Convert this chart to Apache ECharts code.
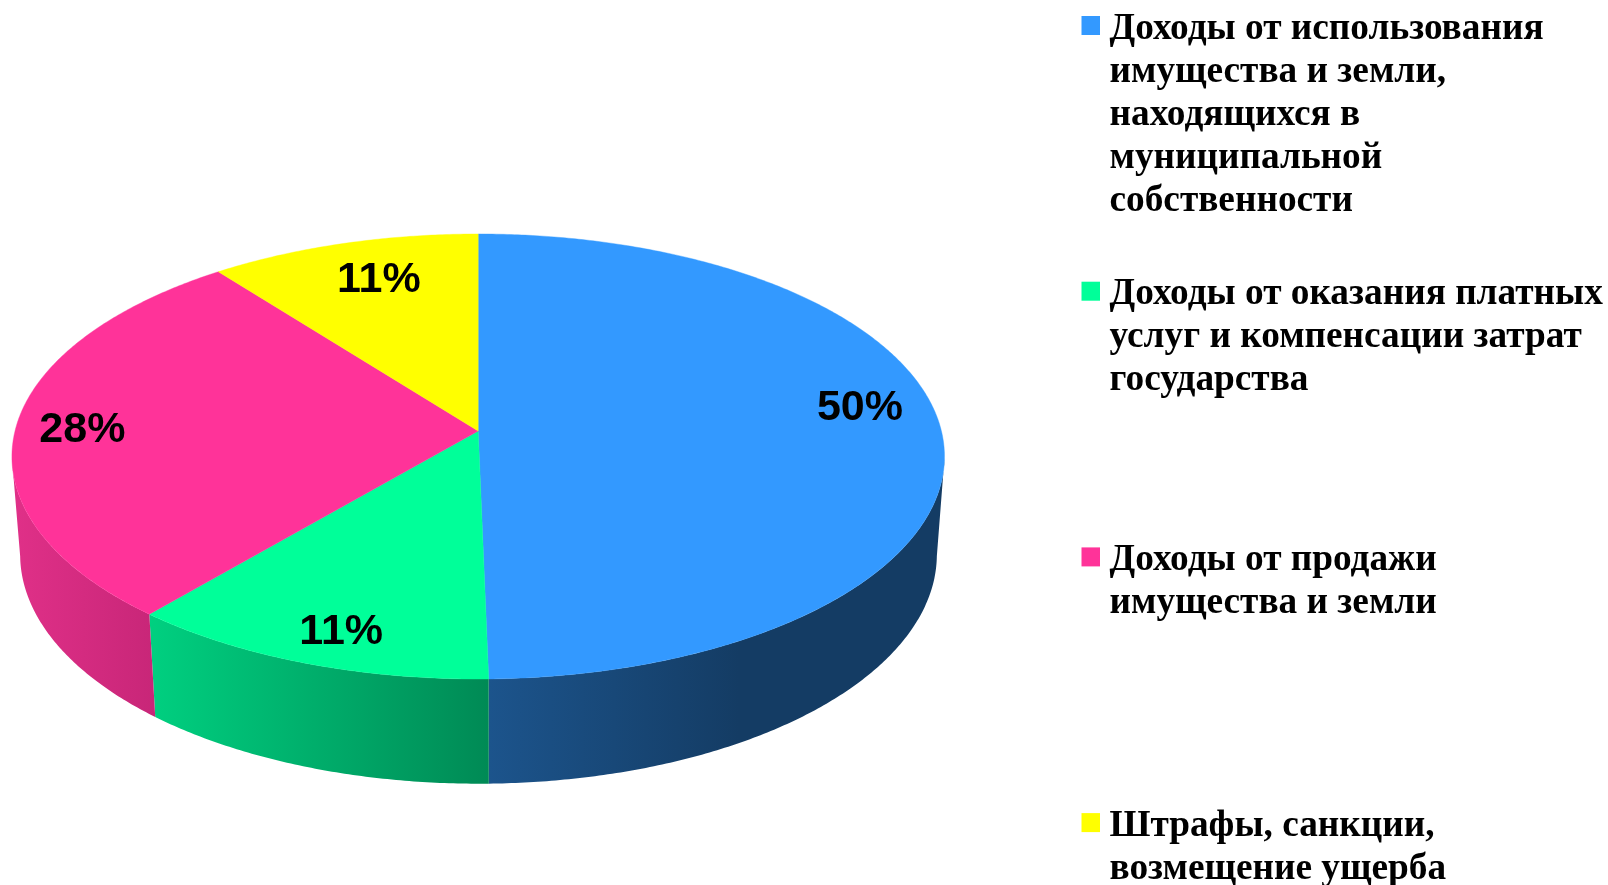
<!DOCTYPE html>
<html>
<head>
<meta charset="utf-8">
<style>html,body{margin:0;padding:0;background:#fff}#c{width:1608px;height:885px}</style>
<script src="https://cdn.jsdelivr.net/npm/echarts@6/dist/echarts.min.js"></script>
</head>
<body>
<div id="c"></div>
<script>
// Data
const categories = [
  'Доходы от использования\nимущества и земли,\nнаходящихся в\nмуниципальной\nсобственности',
  'Доходы от оказания платных\nуслуг и компенсации затрат\nгосударства',
  'Доходы от продажи\nимущества и земли',
  'Штрафы, санкции,\nвозмещение ущерба'
];
const shares = [49.68, 11.54, 28.3, 10.48];
const percentLabels = ['50%', '11%', '28%', '11%'];

// Styles
const topColors = ['#3399ff', '#00ff99', '#ff3399', '#ffff00'];
const sideStops = [
  [[0, '#1c548c'], [0.55, '#143c64'], [1, '#143c64']],
  [[0, '#00d080'], [1, '#008a55']],
  [[0, '#e03088'], [1, '#c82678']],
  [[0, '#888800'], [1, '#888800']]
];
const labelRadius = [0.841, 0.87, 0.855, 0.78];
const labelAngleShift = [-6.7, -1.7, -1, 1.5];

// Projection of the disc
const P = {cx: 478.2, cy: 431, a: 463.2, b: 219.6, k: 0.1146,
           bx: 478.5, bs: 0.983, ey: 457, ys: 1.03, dy: 98};
const VIS = [97, 263];

function project(deg, r, lower) {
  const t = deg * Math.PI / 180;
  const u = r * Math.sin(t), v = -r * Math.cos(t), w = 1 - P.k * v;
  let x = P.cx + P.a * u / w, y = P.cy + P.b * v / w;
  if (lower) {
    x = P.bx + (x - P.cx) * P.bs;
    y = P.ey + (y - P.ey) * P.ys + P.dy;
  }
  return [x, y];
}
function arc(from, to, lower) {
  const n = Math.max(2, Math.ceil(Math.abs(to - from) * 2));
  const pts = [];
  for (let i = 0; i <= n; i++) pts.push(project(from + (to - from) * i / n, 1, lower));
  return pts;
}

function renderSlice(idx) {
  return function (params, api) {
    const start = api.value(0) * 3.6, span = api.value(1) * 3.6, end = start + span;
    const children = [];
    const a0 = Math.max(start, VIS[0]), a1 = Math.min(end, VIS[1]);
    if (a1 > a0) {
      const upper = arc(a0, a1, false), lower = arc(a0, a1, true).reverse();
      const xs = upper.concat(lower).map(p => p[0]);
      const minX = Math.min.apply(null, xs), maxX = Math.max.apply(null, xs);
      const stops = sideStops[idx].map(s => ({offset: s[0], color: s[1]}));
      const grad = new echarts.graphic.LinearGradient(minX, 0, maxX, 0, stops, true);
      children.push({type: 'polygon', shape: {points: upper.concat(lower)},
        style: {fill: grad}, silent: true});
    }
    const face = [[P.cx, P.cy]].concat(arc(start, end, false));
    children.push({type: 'polygon', shape: {points: face}, z2: 2,
      style: {fill: topColors[idx], stroke: topColors[idx], lineWidth: 0.4}, silent: true});
    const mid = start + span / 2 + labelAngleShift[idx];
    const lp = project(mid, labelRadius[idx], false);
    children.push({type: 'text', x: lp[0], y: lp[1], z2: 3, silent: true,
      style: {text: percentLabels[idx], fill: '#000',
        font: 'bold 43px "Liberation Sans", Arial, sans-serif',
        align: 'center', verticalAlign: 'middle'}});
    return {type: 'group', children};
  };
}

let cum = 0;
const seriesList = shares.map((v, i) => {
  const s = {type: 'custom', name: categories[i].replace(/\n/g, ' '), coordinateSystem: 'none',
    silent: true, animation: false, z: i + 2, clip: false,
    renderItem: renderSlice(i), data: [[cum, v]]};
  cum += v;
  return s;
});

// Legend block
const LEG = {sq: 18.5, x: 1081.5, y: 16, step: 265.7, tx: 1109.5, ty: 7.5, lh: 43};
const legendEls = [];
categories.forEach((c, i) => {
  legendEls.push({type: 'rect', x: LEG.x, y: LEG.y + LEG.step * i,
    shape: {width: LEG.sq, height: LEG.sq + 0.5}, style: {fill: topColors[i]}, silent: true});
  legendEls.push({type: 'text', x: LEG.tx, y: LEG.ty + LEG.step * i, silent: true,
    style: {text: c, fill: '#000', font: 'bold 37.3px "Liberation Serif", "Times New Roman", serif',
      lineHeight: LEG.lh, align: 'left', verticalAlign: 'top'}});
});

const chart = echarts.init(document.getElementById('c'), null, {renderer: 'canvas'});
chart.setOption({
  backgroundColor: '#ffffff',
  animation: false,
  series: seriesList,
  graphic: {elements: legendEls}
});
</script>
</body>
</html>
